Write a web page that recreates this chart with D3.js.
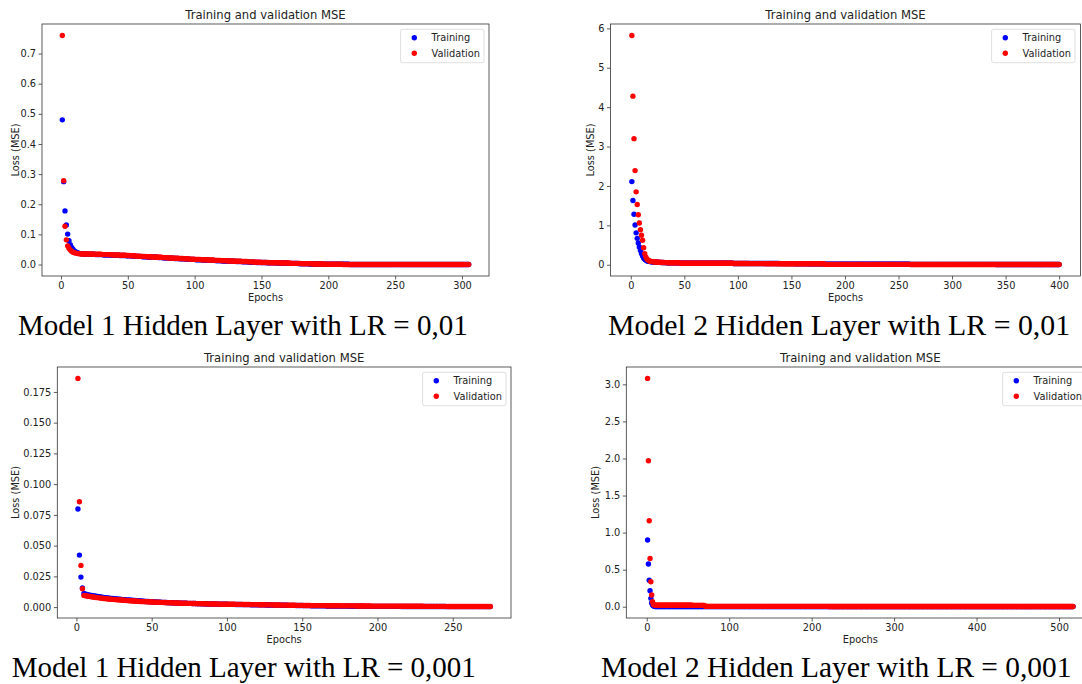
<!DOCTYPE html>
<html>
<head>
<meta charset="utf-8">
<script src="https://cdn.jsdelivr.net/npm/d3@7"></script>
<style>
  body { margin: 0; background: #fff; overflow: hidden; }
  svg { display: block; }
</style>
</head>
<body>
<svg id="chart" width="1082" height="684"></svg>
<script>
// losses are written as integers, divide by the panel unit to get the MSE
// epochs run 1..n for every series

// Model 1 hidden layer, LR = 0,01 (thousandths)
const train1 = [
480,275,178,131,101,79,66,57,50,45, 42,40,38,37,36,
35,35,35,35,34,34,34,34,34,34, 33,33,33,33,33,33,32,32,32,32, 32,32,31,31,31,31,31,31,30,30, 30,30,30,29,29,
29,29,28,28,28,28,27,27,27,27, 26,26,26,26,25,25,25,25,24,24, 24,24,23,23,23,23,22,22,22,22, 21,21,21,21,20,20,20,20,19,19, 19,19,18,18,18,18,17,17,17,17,
16,16,16,16,16,15,15,15,15,15, 14,14,14,14,14,13,13,13,13,13, 12,12,12,12,12,11,11,11,11,11, 10,10,10,10,10,9,9,9,9,9, 8,8,8,8,8,7,7,7,7,7,
7,7,7,6,6,6,6,6,6,6, 6,5,5,5,5,5,5,5,5,4, 4,4,4,4,4,4,4,3,3,3, 3,3,3,3,3,2,2,2,2,2, 2,2,2,1,1,1,1,1,1,1,
1,1,1,1,1,1,1,1,1,1, 1,1,1,1,1,0,0,0,0,0, 0,0,0,0,0,0,0,0,0,0, 0,0,0,0,0,0,0,0,0,0, 0,0,0,0,0,0,0,0,0,0,
0,0,0,0,0,0,0,0,0,0, 0,0,0,0,0,0,0,0,0,0, 0,0,0,0,0,0,0,0,0,0, 0,0,0,0,0,0,0,0,0,0, 0,0,0,0,0,0,0,0,0,0,
0,0,0,0,0
];
const val1 = [
760,278,127,82,62,54,48,44,41,39, 38,37,36,36,35,
35,35,35,35,35,35,35,35,34,34, 34,34,34,34,34,33,33,33,33,33, 33,33,32,32,32,32,32,32,31,31, 31,31,31,30,30,
30,29,29,29,29,28,28,28,28,27, 27,27,27,26,26,26,26,25,25,25, 25,24,24,24,24,23,23,23,23,22, 22,22,22,21,21,21,21,20,20,20, 20,19,19,19,19,18,18,18,18,17,
17,17,17,17,16,16,16,16,16,15, 15,15,15,15,14,14,14,14,14,13, 13,13,13,13,12,12,12,12,12,11, 11,11,11,11,10,10,10,10,10,9, 9,9,9,9,8,8,8,8,8,7,
7,7,7,7,7,6,6,6,6,6, 6,6,6,5,5,5,5,5,5,5, 5,4,4,4,4,4,4,4,4,3, 3,3,3,3,3,3,3,2,2,2, 2,2,2,2,2,2,1,1,1,1,
1,1,1,1,1,1,1,1,1,1, 0,0,0,0,0,0,0,0,0,0, 0,0,0,0,0,0,0,0,0,0, 0,0,0,0,0,0,0,0,0,0, 0,0,0,0,0,0,0,0,0,0,
0,0,0,0,0,0,0,0,0,0, 0,0,0,0,0,0,0,0,0,0, 0,0,0,0,0,0,0,0,0,0, 0,0,0,0,0,0,0,0,0,0, 0,0,0,0,0,0,0,0,0,0,
0,0,0,0,0
];

// Model 2 hidden layers, LR = 0,01 (thousandths)
const train2 = [
2110,1630,1280,1010,810,670,550,450,360,280, 220,170,140,120,100,90,85,80,75,72,
70,68,66,64,62,60,59,58,57,56, 55,54,53,52,52,51,51,50,50,50, 49,49,49,48,48,
42,42,42,42,42,42,42,42,42,42, 41,41,41,41,41,41,41,41,41,41, 40,40,40,40,40,40,40,40,40,40, 39,39,39,39,39,39,39,39,39,39, 38,38,38,38,38,38,38,38,38,38,
32,32,32,32,32, 32,32,32,32,32, 32,32,32,32,32,
31,31,31,31,31, 31,31,31,31,31, 31,31,31,31,
30,30,30,30,30, 30,30,30,30,30, 30,30,30,30,
29,29,29,29,29, 29,29,29,29,29, 29,29,29,29,
28,28,28,28,28, 28,28,28,28,28, 28,28,28,28,
27,27,27,27,27, 27,27,27,27,27, 27,27,27,27,
12,12,12,12,12,12,12,12,12,12, 12,12,12,12,12,12,12,12,12,12, 12,12,12,12,12,12,12,12,12,12, 12,12,12,12,12,12,12,12,12,12,
11,11,11,11,11,11,11,11,11,11, 11,11,11,11,11,11,11,11,11,11, 11,11,11,11,11,11,11,11,11,11, 11,11,11,11,11,11,11,11,11,11,
10,10,10,10,10,10,10,10,10,10, 10,10,10,10,10,10,10,10,10,10, 10,10,10,10,10,10,10,10,10,10, 10,10,10,10,10,10,10,10,10,10,
9,9,9,9,9,9,9,9,9,9, 9,9,9,9,9,9,9,9,9,9, 9,9,9,9,9,9,9,9,9,9, 9,9,9,9,9,9,9,9,9,9,
8,8,8,8,8,8,8,8,8,8, 8,8,8,8,8,8,8,8,8,8, 8,8,8,8,8,8,8,8,8,8,
7,7,7,7,7,7,7,7,7,7, 7,7,7,7,7,7,7,7,7,7, 7,7,7,7,7,7,7,7,7,7
];
const val2 = [
5820,4280,3200,2390,1850,1530,1270,1060,890,750, 620,430,280,200,150,120,100,90,85,80,
75,72,70,68,66,64,62,60,58,57, 56,55,54,53,52,52,51,51,50,50, 50,49,49,49,48,
40,40,40,40,40,40,40,40,40,40, 39,39,39,39,39,39,39,39,39,39, 38,38,38,38,38,38,38,38,38,38, 37,37,37,37,37,37,37,37,37,37, 36,36,36,36,36,36,36,36,36,36,
30,30,30,30,30, 30,30,30,30,30, 30,30,30,30,30,
29,29,29,29,29, 29,29,29,29,29, 29,29,29,29,
28,28,28,28,28, 28,28,28,28,28, 28,28,28,28,
27,27,27,27,27, 27,27,27,27,27, 27,27,27,27,
26,26,26,26,26, 26,26,26,26,26, 26,26,26,26,
25,25,25,25,25, 25,25,25,25,25, 25,25,25,25,
10,10,10,10,10,10,10,10,10,10, 10,10,10,10,10,10,10,10,10,10, 10,10,10,10,10,10,10,10,10,10, 10,10,10,10,10,10,10,10,10,10,
9,9,9,9,9,9,9,9,9,9, 9,9,9,9,9,9,9,9,9,9, 9,9,9,9,9,9,9,9,9,9, 9,9,9,9,9,9,9,9,9,9,
8,8,8,8,8,8,8,8,8,8, 8,8,8,8,8,8,8,8,8,8, 8,8,8,8,8,8,8,8,8,8, 8,8,8,8,8,8,8,8,8,8,
7,7,7,7,7,7,7,7,7,7, 7,7,7,7,7,7,7,7,7,7, 7,7,7,7,7,7,7,7,7,7, 7,7,7,7,7,7,7,7,7,7,
6,6,6,6,6,6,6,6,6,6, 6,6,6,6,6,6,6,6,6,6, 6,6,6,6,6,6,6,6,6,6,
5,5,5,5,5,5,5,5,5,5, 5,5,5,5,5,5,5,5,5,5, 5,5,5,5,5,5,5,5,5,5
];

// Model 1 hidden layer, LR = 0,001 (ten-thousandths)
const train3 = [
798,423,244,155,110,105,102,99,96,94, 92,90,88,86,84,
82,80,78,77,75,74,72,71,70,69,
67,66,65,64,62,61,60,59,58,57, 56,55,54,53,52,
51,50,49,48,47,46,45,45,44,43, 42,42,41,40,40,39,38,38,37,37,
36,36,35,35,34,34,33,33,32,32, 31,31,31,30,30,30,29,29,29,28, 28,28,27,27,27,26,26,26,25,25, 25,25,24,24,24,24,23,23,23,23,
22,22,22,22,22,21,21,21,21,21, 20,20,20,20,20,19,19,19,19,19, 18,18,18,18,18,17,17,17,17,17, 16,16,16,16,16,15,15,15,15,15, 14,14,14,14,14,13,13,13,13,13,
12,12,12,12,12,11,11,11,11,11, 10,10,10,10,10,9,9,9,9,9, 8,8,8,8,8,8,8,8,8,8, 7,7,7,7,7,7,7,7,7,7, 6,6,6,6,6,6,6,6,6,6,
6,6,6,6,6,6,6,6,6,6, 6,6,6,6,6,5,5,5,5,5, 5,5,5,5,5,5,5,5,5,5, 5,5,5,5,5,5,5,5,5,5, 5,5,5,5,5,4,4,4,4,4,
4,4,4,4,4,4,4,4,4,4, 4,4,4,4,4,4,4,4,4,4, 4,4,4,4,4
];
const val3 = [
1860,857,339,149,95,92,90,88,86,84, 82,80,78,77,75,
73,72,70,69,68,66,65,64,63,62,
61,60,59,58,57,56,55,54,53,52, 51,50,50,49,48,
47,46,46,45,44,44,43,42,42,41, 41,40,40,39,39,38,38,37,37,36,
36,35,35,34,34,33,33,33,32,32, 31,31,31,30,30,30,29,29,29,28, 28,28,28,27,27,27,26,26,26,26, 25,25,25,25,24,24,24,24,23,23,
23,23,23,23,23,22,22,22,22,22, 21,21,21,21,21,20,20,20,20,20, 19,19,19,19,19,18,18,18,18,18, 17,17,17,17,17,16,16,16,16,16, 15,15,15,15,15,14,14,14,14,14,
13,13,13,13,13,12,12,12,12,12, 12,12,12,12,12,11,11,11,11,11, 11,11,11,11,11,10,10,10,10,10, 10,10,10,10,10,9,9,9,9,9, 9,9,9,9,9,8,8,8,8,8,
8,8,8,8,8,8,8,8,8,8, 8,8,8,8,8,7,7,7,7,7, 7,7,7,7,7,7,7,7,7,7, 6,6,6,6,6,6,6,6,6,6, 6,6,6,6,6,5,5,5,5,5,
5,5,5,5,5,5,5,5,5,5, 5,5,5,5,5,5,5,5,5,5, 5,5,5,5,5
];

// Model 2 hidden layers, LR = 0,001 (thousandths)
const train4 = [
900,577,357,216,113,50,25,12,6,3,
2,2,2,2,2,2,2,2,2,2, 2,2,2,2,2,2,2,2,2,2, 2,2,2,2,2,2,2,2,2,2, 2,2,2,2,2,2,2,2,2,2, 2,2,2,2,2,2,2,2,2,2, 2,2,2,2,2,2,2,2,2,2,
2,2,2,2,2,2,2,2,2,2, 2,2,2,2,2,2,2,2,2,2, 2,2,2,2,2,2,2,2,2,2, 2,2,2,2,2,2,2,2,2,2, 2,2,2,2,2,2,2,2,2,2,
2,2,2,2,2,2,2,2,2,2, 2,2,2,2,2,2,2,2,2,2, 2,2,2,2,2,2,2,2,2,2, 2,2,2,2,2,2,2,2,2,2, 2,2,2,2,2,2,2,2,2,2,
2,2,2,2,2,2,2,2,2,2, 2,2,2,2,2,2,2,2,2,2, 2,2,2,2,2,2,2,2,2,2, 2,2,2,2,2,2,2,2,2,2, 2,2,2,2,2,2,2,2,2,2,
2,2,2,2,2,2,2,2,2,2, 2,2,2,2,2,2,2,2,2,2, 2,2,2,2,2,2,2,2,2,2, 2,2,2,2,2,2,2,2,2,2, 2,2,2,2,2,2,2,2,2,2,
2,2,2,2,2,2,2,2,2,2, 2,2,2,2,2,2,2,2,2,2, 2,2,2,2,2,2,2,2,2,2, 2,2,2,2,2,2,2,2,2,2, 2,2,2,2,2,2,2,2,2,2,
2,2,2,2,2,2,2,2,2,2, 2,2,2,2,2,2,2,2,2,2, 2,2,2,2,2,2,2,2,2,2, 2,2,2,2,2,2,2,2,2,2, 2,2,2,2,2,2,2,2,2,2,
2,2,2,2,2,2,2,2,2,2, 2,2,2,2,2,2,2,2,2,2, 2,2,2,2,2,2,2,2,2,2, 2,2,2,2,2,2,2,2,2,2, 2,2,2,2,2,2,2,2,2,2,
2,2,2,2,2,2,2,2,2,2, 2,2,2,2,2,2,2,2,2,2, 2,2,2,2,2,2,2,2,2,2, 2,2,2,2,2,2,2,2,2,2, 2,2,2,2,2,2,2,2,2,2,
2,2,2,2,2,2,2,2,2,2, 2,2,2,2,2,2,2,2,2,2, 2,2,2,2,2,2,2,2,2,2, 2,2,2,2,2,2,2,2,2,2, 2,2,2,2,2,2,2
];
const val4 = [
3080,1970,1160,650,338,158,68,30,24,23,
22,22,22,22,22,22,22,22,22,22, 22,22,22,22,22, 21,21,21,21,21,21,21,21,21,21, 21,21,21,21,21,
20,20,20,20,20,20,20,20,20,20, 20,20,20,20,20, 19,19,19,19,19,19,19,19,19,19, 19,19,19,19,19,
5,5,5,5,5,5,5,5,5,5, 5,5,5,5,5,5,5,5,5,5, 5,5,5,5,5,5,5,5,5,5, 5,5,5,5,5,5,5,5,5,5, 5,5,5,5,5,5,5,5,5,5,
5,5,5,5,5,5,5,5,5,5, 5,5,5,5,5,5,5,5,5,5, 5,5,5,5,5,5,5,5,5,5, 5,5,5,5,5,5,5,5,5,5, 5,5,5,5,5,5,5,5,5,5,
5,5,5,5,5,5,5,5,5,5, 5,5,5,5,5,5,5,5,5,5, 5,5,5,5,5,5,5,5,5,5, 5,5,5,5,5,5,5,5,5,5, 5,5,5,5,5,5,5,5,5,5,
4,4,4,4,4,4,4,4,4,4, 4,4,4,4,4,4,4,4,4,4, 4,4,4,4,4,4,4,4,4,4, 4,4,4,4,4,4,4,4,4,4, 4,4,4,4,4,4,4,4,4,4,
4,4,4,4,4,4,4,4,4,4, 4,4,4,4,4,4,4,4,4,4, 4,4,4,4,4,4,4,4,4,4, 4,4,4,4,4,4,4,4,4,4, 4,4,4,4,4,4,4,4,4,4,
4,4,4,4,4,4,4,4,4,4, 4,4,4,4,4,4,4,4,4,4, 4,4,4,4,4,4,4,4,4,4, 4,4,4,4,4,4,4,4,4,4, 4,4,4,4,4,4,4,4,4,4,
3,3,3,3,3,3,3,3,3,3, 3,3,3,3,3,3,3,3,3,3, 3,3,3,3,3,3,3,3,3,3, 3,3,3,3,3,3,3,3,3,3, 3,3,3,3,3,3,3,3,3,3,
3,3,3,3,3,3,3,3,3,3, 3,3,3,3,3,3,3,3,3,3, 3,3,3,3,3,3,3,3,3,3, 3,3,3,3,3,3,3,3,3,3, 3,3,3,3,3,3,3,3,3,3,
3,3,3,3,3,3,3,3,3,3, 3,3,3,3,3,3,3,3,3,3, 3,3,3,3,3,3,3,3,3,3, 3,3,3,3,3,3,3,3,3,3, 3,3,3,3,3,3,3
];

const xTicks1 = [0, 50, 100, 150, 200, 250, 300];
const yTicks1 = [0, 0.1, 0.2, 0.3, 0.4, 0.5, 0.6, 0.7];
const xTicks2 = [0, 50, 100, 150, 200, 250, 300, 350, 400];
const yTicks2 = [0, 1, 2, 3, 4, 5, 6];
const xTicks3 = [0, 50, 100, 150, 200, 250];
const yTicks3 = [0, 0.025, 0.05, 0.075, 0.1, 0.125, 0.15, 0.175];
const xTicks4 = [0, 100, 200, 300, 400, 500];
const yTicks4 = [0, 0.5, 1, 1.5, 2, 2.5, 3];

const seriesNames = ["Training", "Validation"];
const seriesColors = ["#0000ff", "#ff0000"];
const chartTitle = "Training and validation MSE";
const xLabel = "Epochs";
const yLabel = "Loss (MSE)";
const captions = [
  "Model 1 Hidden Layer with LR = 0,01",
  "Model 2 Hidden Layer with LR = 0,01",
  "Model 1 Hidden Layer with LR = 0,001",
  "Model 2 Hidden Layer with LR = 0,001"
];

// where each screenshot sits on the page
const panels = [
  {train: train1, val: val1, unit: 1000, xTicks: xTicks1, yTicks: yTicks1, yFormat: ".1f",
   left: 42, top: 24, right: 489, bottom: 276, legendRight: 484, yLabelX: 18.5,
   capX: 18, capY: 335, capSize: 29, caption: captions[0]},
  {train: train2, val: val2, unit: 1000, xTicks: xTicks2, yTicks: yTicks2, yFormat: "d",
   left: 610.5, top: 24, right: 1080.5, bottom: 276, legendRight: 1075, yLabelX: 593.5,
   capX: 608, capY: 335, capSize: 29.8, caption: captions[1]},
  {train: train3, val: val3, unit: 10000, xTicks: xTicks3, yTicks: yTicks3, yFormat: ".3f",
   left: 57.3, top: 367, right: 511, bottom: 618, legendRight: 506, yLabelX: 18.5,
   capX: 11.7, capY: 677, capSize: 29, caption: captions[2]},
  {train: train4, val: val4, unit: 1000, xTicks: xTicks4, yTicks: yTicks4, yFormat: ".1f",
   left: 626.3, top: 367, right: 1094.3, bottom: 618, legendRight: 1086, yLabelX: 599,
   capX: 601, capY: 677, capSize: 29.4, caption: captions[3]}
];

const svg = d3.select("#chart");
const sans = "DejaVu Sans";
const small = 9.8;

function drawPanel(p) {
  const train = p.train.map(v => v / p.unit);
  const val = p.val.map(v => v / p.unit);
  const n = Math.max(train.length, val.length);

  // matplotlib style 5% margins around the data
  const xPad = 0.05 * (n - 1);
  const x = d3.scaleLinear().domain([1 - xPad, n + xPad]).range([p.left, p.right]);
  const [lo, hi] = d3.extent(train.concat(val));
  const yPad = 0.05 * (hi - lo);
  const y = d3.scaleLinear().domain([lo - yPad, hi + yPad]).range([p.bottom, p.top]);

  const g = svg.append("g");

  // training first, validation drawn over it
  [train, val].forEach((series, k) => {
    g.append("g").selectAll("circle")
      .data(series)
      .enter().append("circle")
      .attr("cx", (d, i) => x(i + 1))
      .attr("cy", d => y(d))
      .attr("r", 2.7)
      .attr("fill", seriesColors[k]);
  });

  const xAxis = g.append("g")
    .attr("transform", `translate(0,${p.bottom})`)
    .call(d3.axisBottom(x).tickValues(p.xTicks).tickFormat(d3.format("d")).tickSize(3.5).tickPadding(2.5));
  const yAxis = g.append("g")
    .attr("transform", `translate(${p.left},0)`)
    .call(d3.axisLeft(y).tickValues(p.yTicks).tickFormat(d3.format(p.yFormat)).tickSize(3.5).tickPadding(2.5));
  [xAxis, yAxis].forEach(a => {
    a.select(".domain").remove();
    a.selectAll("line").attr("stroke", "#333").attr("stroke-width", 0.8);
    a.selectAll("text").attr("font-family", sans).attr("font-size", small).attr("fill", "#222");
  });

  // frame
  g.append("rect")
    .attr("x", p.left).attr("y", p.top)
    .attr("width", p.right - p.left).attr("height", p.bottom - p.top)
    .attr("fill", "none").attr("stroke", "#333").attr("stroke-width", 0.8);

  const cx = (p.left + p.right) / 2;
  g.append("text")
    .attr("x", cx).attr("y", p.top - 5)
    .attr("text-anchor", "middle")
    .attr("font-family", sans).attr("font-size", 11.6).attr("fill", "#222")
    .text(chartTitle);

  g.append("text")
    .attr("x", cx).attr("y", p.bottom + 25)
    .attr("text-anchor", "middle")
    .attr("font-family", sans).attr("font-size", small).attr("fill", "#222")
    .text(xLabel);

  g.append("text")
    .attr("transform", `translate(${p.yLabelX},${(p.top + p.bottom) / 2}) rotate(-90)`)
    .attr("text-anchor", "middle")
    .attr("font-family", sans).attr("font-size", small).attr("fill", "#222")
    .text(yLabel);

  // legend, upper right
  const lg = g.append("g");
  const box = lg.append("rect")
    .attr("rx", 2).attr("fill", "#fff").attr("fill-opacity", 0.8)
    .attr("stroke", "#d6d6d6").attr("stroke-width", 0.8);
  const labels = lg.selectAll("text")
    .data(seriesNames)
    .enter().append("text")
    .attr("x", 31)
    .attr("y", (d, i) => 8.4 + i * 15.6 + 3.4)
    .attr("font-family", sans).attr("font-size", small).attr("fill", "#222")
    .text(d => d);
  lg.selectAll("circle")
    .data(seriesNames)
    .enter().append("circle")
    .attr("cx", 13.7)
    .attr("cy", (d, i) => 8.4 + i * 15.6)
    .attr("r", 2.7)
    .attr("fill", (d, i) => seriesColors[i]);
  const textW = d3.max(labels.nodes(), nd => nd.getComputedTextLength());
  const w = 31 + textW + 4;
  box.attr("width", w).attr("height", 33.4);
  lg.attr("transform", `translate(${p.legendRight - w},${p.top + 5.3})`);

  svg.append("text")
    .attr("x", p.capX).attr("y", p.capY)
    .attr("font-family", "Liberation Serif, serif").attr("font-size", p.capSize).attr("fill", "#000")
    .text(p.caption);
}

panels.forEach(drawPanel);
</script>
</body>
</html>
